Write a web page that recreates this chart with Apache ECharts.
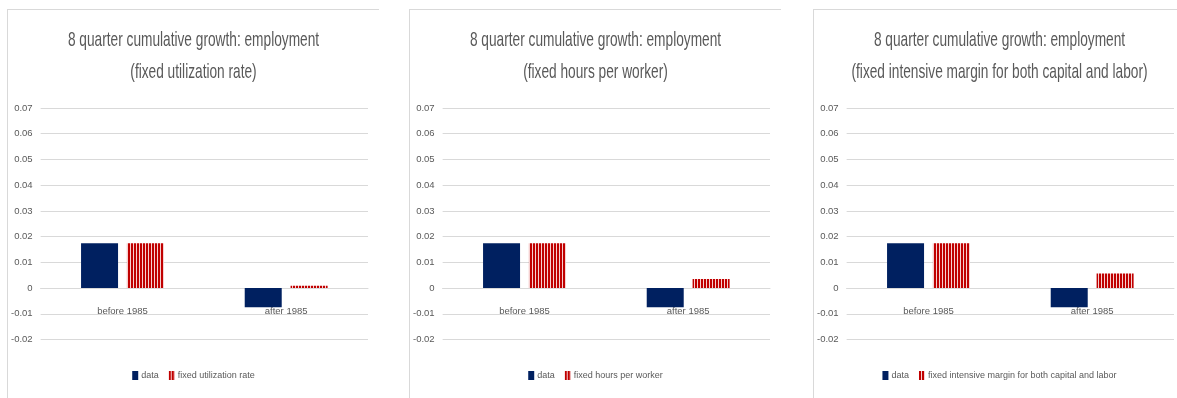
<!DOCTYPE html>
<html>
<head>
<meta charset="utf-8">
<script src="https://cdn.jsdelivr.net/npm/echarts@6/dist/echarts.min.js"></script>
<style>
  html, body { margin: 0; padding: 0; background: #ffffff; }
  body { width: 1177px; height: 398px; position: relative; overflow: hidden; }
  .panel {
    position: absolute; top: 9px; width: 372px; height: 389px;
    border-left: 1px solid #d9d9d9; border-top: 1px solid #d9d9d9;
    box-sizing: border-box;
  }
</style>
</head>
<body>
<div class="panel" id="p1" style="left:7px"></div>
<div class="panel" id="p2" style="left:409px"></div>
<div class="panel" id="p3" style="left:813px"></div>
<script>
// 8-quarter cumulative employment growth, before vs after 1985
const categories = ['before 1985', 'after 1985'];
const dataValues = [0.0174, -0.0075];
const fixedUtilization = [0.0174, 0.0009];
const fixedHours = [0.0174, 0.0035];
const fixedBoth = [0.0174, 0.0057];

const titles = [
  '8 quarter cumulative growth: employment\n(fixed utilization rate)',
  '8 quarter cumulative growth: employment\n(fixed hours per worker)',
  '8 quarter cumulative growth: employment\n(fixed intensive margin for both capital and labor)'
];
const counterfactualNames = [
  'fixed utilization rate',
  'fixed hours per worker',
  'fixed intensive margin for both capital and labor'
];
const counterfactualValues = [fixedUtilization, fixedHours, fixedBoth];

const Y_MIN = -0.02;
const Y_MAX = 0.07;
const Y_STEP = 0.01;

const FONT = "'Liberation Sans', Arial, sans-serif";
const TEXT = '#595959';
const GRID = '#d9d9d9';
const NAVY = '#002060';

const GRID_TOP = 98;
const GRID_BOTTOM = 58.5;

// vertical red stripe fill for the counterfactual bars
function stripeFill() {
  const c = document.createElement('canvas');
  c.width = 3; c.height = 4;
  const g = c.getContext('2d');
  g.fillStyle = '#f6d0d0';
  g.fillRect(0, 0, 3, 4);
  g.fillStyle = '#c00000';
  g.fillRect(0, 0, 2, 4);
  return { image: c, repeat: 'repeat' };
}

function buildOption(i, width, height) {
  // category axis sits on the zero line of the value axis
  const plotHeight = height - GRID_TOP - GRID_BOTTOM;
  const zeroLift = plotHeight * (0 - Y_MIN) / (Y_MAX - Y_MIN);
  return {
    animation: false,
    textStyle: { fontFamily: FONT },
    // two-line heading, drawn as condensed text
    graphic: [{
      type: 'text',
      x: width / 2,
      y: 14,
      originX: 0,
      originY: 0,
      scaleX: 0.652,
      style: {
        text: titles[i],
        fontFamily: FONT,
        fontSize: 21,
        lineHeight: 32,
        fill: TEXT,
        align: 'center',
        verticalAlign: 'top'
      }
    }],
    legend: {
      top: 361,
      left: 'center',
      padding: 0,
      itemWidth: 6,
      itemHeight: 9,
      itemGap: 10,
      icon: 'rect',
      textStyle: { fontFamily: FONT, fontSize: 9, color: TEXT, padding: [0, 0, 0, -2] },
      data: ['data', counterfactualNames[i]]
    },
    grid: { left: 32, right: 11, top: GRID_TOP, bottom: GRID_BOTTOM, containLabel: false },
    xAxis: {
      type: 'category',
      data: categories,
      position: 'bottom',
      offset: -zeroLift,
      axisLine: { show: true, onZero: false, lineStyle: { color: GRID, width: 1 } },
      axisTick: { show: false },
      axisLabel: { fontFamily: FONT, fontSize: 9.5, color: TEXT, margin: 18.5 },
      splitLine: { show: false }
    },
    yAxis: {
      type: 'value',
      min: Y_MIN,
      max: Y_MAX,
      interval: Y_STEP,
      axisLine: { show: false },
      axisTick: { show: false },
      axisLabel: {
        fontFamily: FONT, fontSize: 9.5, color: TEXT, margin: 8,
        formatter: v => String(Number(v.toFixed(2)))
      },
      splitLine: { lineStyle: { color: GRID, width: 1 } }
    },
    series: [
      {
        name: 'data',
        type: 'bar',
        data: dataValues,
        barWidth: 37,
        barGap: '24%',
        itemStyle: { color: NAVY }
      },
      {
        name: counterfactualNames[i],
        type: 'bar',
        data: counterfactualValues[i],
        barWidth: 37,
        barGap: '24%',
        itemStyle: { color: stripeFill() }
      }
    ]
  };
}

['p1', 'p2', 'p3'].forEach((id, i) => {
  const el = document.getElementById(id);
  const chart = echarts.init(el, null, { renderer: 'canvas' });
  chart.setOption(buildOption(i, el.clientWidth, el.clientHeight));
});
</script>
</body>
</html>
